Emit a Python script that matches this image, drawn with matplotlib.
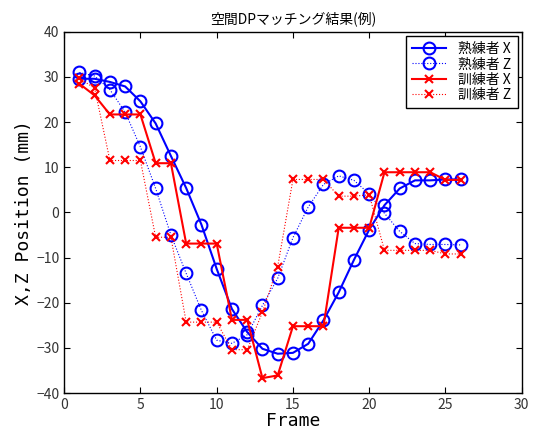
import matplotlib.pyplot as plt

plt.rcParams['font.family'] = ['Noto Sans CJK JP', 'DejaVu Sans']

# Frame index and DP matching results (mm)
frames = list(range(1, 27))
expert_x = [29.6, 29.6, 28.9, 27.9, 24.6, 19.7, 12.5, 5.4, -2.7, -12.5,
            -21.4, -26.5, -30.2, -31.3, -31.1, -29.1, -23.9, -17.7, -10.5, -3.8,
            1.6, 5.3, 7.1, 7.1, 7.3, 7.3]
expert_z = [31.0, 30.2, 27.2, 22.2, 14.5, 5.3, -5.0, -13.5, -21.7, -28.3,
            -29.0, -27.1, -20.6, -14.6, -5.6, 1.2, 6.2, 8.1, 7.1, 4.1,
            -0.2, -4.2, -6.9, -7.1, -7.1, -7.2]
trainee_x = [28.5, 25.9, 21.7, 21.7, 21.7, 10.9, 10.9, -6.9, -6.9, -6.9,
             -23.8, -23.8, -36.7, -36.1, -25.2, -25.2, -25.2, -3.4, -3.4, -3.4,
             8.9, 8.9, 8.9, 8.9, 7.2, 7.2]
trainee_z = [29.7, 27.5, 11.5, 11.5, 11.5, -5.5, -5.5, -24.3, -24.3, -24.3,
             -30.4, -30.4, -22.1, -12.0, 7.3, 7.3, 7.3, 3.6, 3.6, 3.9,
             -8.4, -8.4, -8.4, -8.4, -9.2, -9.2]

fig = plt.figure(figsize=(5.39, 4.30), dpi=100)
ax = fig.add_axes([0.119, 0.086, 0.849, 0.840])

ax.plot(frames, expert_x, '-', color='blue', lw=1.5, marker='o', ms=8.5,
        mfc='none', mew=1.5, label='熟練者 X')
ax.plot(frames, expert_z, ':', color='blue', lw=0.8, marker='o', ms=8.5,
        mfc='none', mew=1.5, label='熟練者 Z')
ax.plot(frames, trainee_x, '-', color='red', lw=1.5, marker='x', ms=6,
        mew=1.5, label='訓練者 X')
ax.plot(frames, trainee_z, ':', color='red', lw=0.8, marker='x', ms=6,
        mew=1.5, label='訓練者 Z')

ax.set_xlim(0, 30)
ax.set_ylim(-40, 40)
ax.set_xticks([0, 5, 10, 15, 20, 25, 30])
ax.set_yticks(range(-40, 41, 10))
ax.tick_params(direction='in', top=True, right=True, length=4,
               labelsize=10, labelcolor='#333333')
for s in ax.spines.values():
    s.set_linewidth(1.0)

ax.set_title('空間DPマッチング結果(例)', fontsize=10, pad=6)
ax.set_xlabel('Frame', family='DejaVu Sans Mono', fontsize=13, labelpad=0)
ax.set_ylabel('X,Z Position (mm)', family='DejaVu Sans Mono', fontsize=13, labelpad=2)

leg = ax.legend(loc='upper right', fontsize=10, fancybox=False, framealpha=1,
                edgecolor='black', borderaxespad=0.3, handlelength=2.4,
                handletextpad=0.9, labelspacing=0.08, borderpad=0.45,
                numpoints=1)
leg.get_frame().set_linewidth(1.0)

fig.savefig('out.png', dpi=100)
